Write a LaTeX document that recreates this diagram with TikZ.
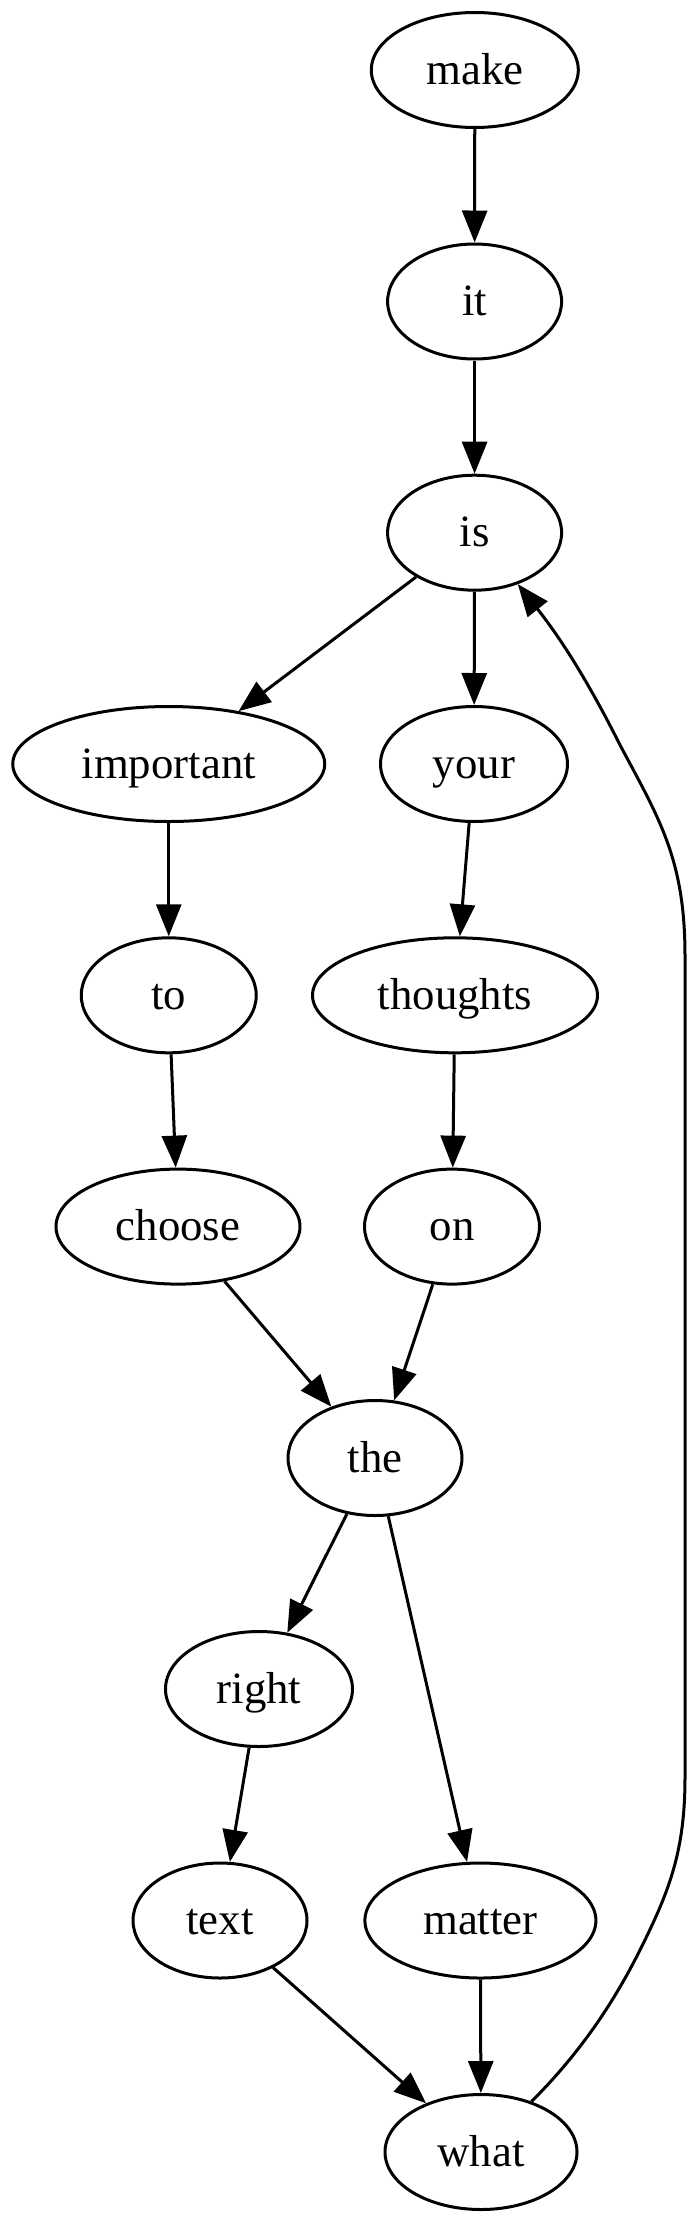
\documentclass[tikz,border=0pt]{standalone}
\usepackage{fontspec}
\setmainfont{Liberation Serif}
\usetikzlibrary{shapes.geometric,arrows.meta}
\begin{document}
\begin{tikzpicture}[x=1pt,y=-1pt,
  wnode/.style={draw,ellipse,line width=3pt,inner sep=0pt,minimum height=115pt,
    text height=36pt,text depth=8pt,
    font=\fontsize{44.8}{50}\selectfont},
  arr/.style={line width=3pt,-{Triangle[length=32pt,width=25pt]}}]
\useasboundingbox (0,0) rectangle (700,2222);
\node[wnode,minimum width=207pt] (make) at (474.8,70) {make};
\node[wnode,minimum width=174pt] (it) at (474.6,301.5) {it};
\node[wnode,minimum width=174pt] (is) at (474.6,532.7) {is};
\node[wnode,minimum width=312pt] (important) at (168.75,764) {important};
\node[wnode,minimum width=187pt] (your) at (474,764) {your};
\node[wnode,minimum width=175pt] (to) at (168.75,995.3) {to};
\node[wnode,minimum width=285pt] (thoughts) at (455,995.3) {thoughts};
\node[wnode,minimum width=244pt] (choose) at (178,1226.6) {choose};
\node[wnode,minimum width=175pt] (on) at (452,1226.6) {on};
\node[wnode,minimum width=174pt] (the) at (375,1458) {the};
\node[wnode,minimum width=187pt] (right) at (259,1689) {right};
\node[wnode,minimum width=174pt] (text) at (220,1920.5) {text};
\node[wnode,minimum width=231pt] (matter) at (480.4,1920.5) {matter};
\node[wnode,minimum width=192pt] (what) at (481,2152) {what};
\draw[arr] (make) -- (it);
\draw[arr] (it) -- (is);
\draw[arr] (is) -- (important);
\draw[arr] (is) -- (your);
\draw[arr] (important) -- (to);
\draw[arr] (your) -- (thoughts);
\draw[arr] (to) -- (choose);
\draw[arr] (thoughts) -- (on);
\draw[arr] (choose) -- (the);
\draw[arr] (on) -- (the);
\draw[arr] (the) -- (right);
\draw[arr] (the) -- (matter);
\draw[arr] (right) -- (text);
\draw[arr] (text) -- (what);
\draw[arr] (matter) -- (what);
\coordinate (c1) at (640,1950);
\coordinate (c2) at (685,1777);
\coordinate (c3) at (685,956);
\coordinate (c4) at (620,745);
\draw[arr] (what.45) .. controls (575,2058) and (610,2010) .. (c1)
  .. controls (670,1890) and (685,1850) .. (c2) -- (c3)
  .. controls (685,860) and (660,820) .. (c4)
  .. controls (600,705) and (570,650) .. (is.-50);
\end{tikzpicture}
\end{document}
